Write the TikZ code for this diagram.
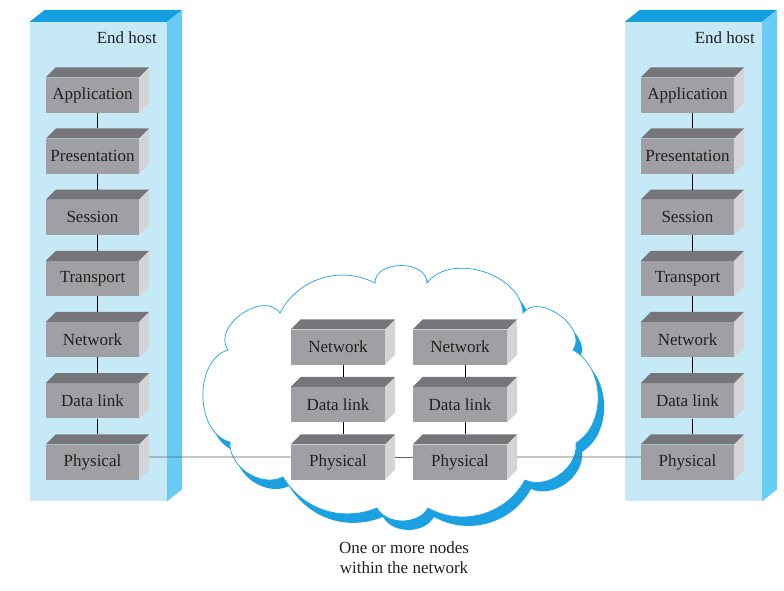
\documentclass[tikz,border=0pt]{standalone}
\usepackage{fontspec}
\setmainfont{Liberation Serif}

\definecolor{hostfront}{RGB}{198,233,248}
\definecolor{hosttop}{RGB}{20,160,222}
\definecolor{hostside}{RGB}{105,204,245}
\definecolor{boxfront}{RGB}{160,160,164}
\definecolor{boxtop}{RGB}{118,118,122}
\definecolor{boxside}{RGB}{212,212,214}
\definecolor{cloudblue}{RGB}{27,161,226}
\definecolor{linkgrey}{RGB}{95,95,98}
\definecolor{inktext}{RGB}{35,31,32}

\begin{document}
\begin{tikzpicture}[x=1pt, y=-1pt,
    every node/.style={font=\fontsize{17}{20}\selectfont, text=inktext},
    layer/.style={fill=boxfront, minimum width=93pt, minimum height=35pt, inner sep=0pt},
    host/.style={fill=hostfront, minimum width=137pt, minimum height=479pt, inner sep=0pt},
    shade/.style={fill=cloudblue},
    sky/.style={fill=white, draw=cloudblue, line width=0.7pt},
    link/.style={draw=linkgrey, line width=0.8pt},
    stack/.style={draw=black, line width=0.6pt}]
    \useasboundingbox (0,0) rectangle (784,590);

    % end hosts
    \node[host] (hostL) at (98.5,261.5) {};
    \node[host] (hostR) at (693.5,261.5) {};
    \foreach \h in {hostL,hostR} {
        \fill[hosttop] (\h.north west) -- ([shift={(15pt,12pt)}]\h.north west)
            -- ([shift={(15pt,12pt)}]\h.north east) -- (\h.north east) -- cycle;
        \fill[hostside] (\h.north east) -- ([shift={(15pt,12pt)}]\h.north east)
            -- ([shift={(15pt,12pt)}]\h.south east) -- (\h.south east) -- cycle;
    }
    \node[anchor=base east, inner sep=0pt] (tagL) at (157,43.5) {End host};
    \node[anchor=base east, inner sep=0pt] (tagR) at (755,43.5) {End host};

    % the network (shadow first, then the white cloud)
    \foreach \dx/\dy/\look in {6/9/shade, 0/0/sky}
        \path[\look, shift={(\dx,\dy)}] (280,313)
            to[bend left=45] (375,283)
            to[bend left=90, looseness=1.15] (427,283)
            to[bend left=70] (523,313)
            to[bend left=90, looseness=1.1] (573,350)
            to[bend left=60] (576,443)
            to[bend left=60] (525,480)
            to[bend left=45] (428,508)
            to[bend left=60] (377,508)
            to[bend left=40] (283,477)
            to[bend left=60] (230,442)
            to[bend left=75] (228,350)
            to[bend left=90, looseness=1.15] (280,313) -- cycle;

    % layers
    \foreach \t [count=\i] in {Application,Presentation,Session,Transport,Network,Data link,Physical} {
        \node[layer] (L\i) at (92.5,{95+61.17*(\i-1)}) {\t};
        \node[layer] (R\i) at (687.5,{95+61.17*(\i-1)}) {\t};
    }
    \foreach \t [count=\i] in {Network,Data link,Physical} {
        \node[layer, minimum width=94pt] (A\i) at (338,{347+57.5*(\i-1)}) {\t};
        \node[layer, minimum width=94pt] (B\i) at (460,{347+57.5*(\i-1)}) {\t};
    }
    \foreach \s/\k in {L/7,R/7,A/3,B/3}
        \foreach \i in {1,...,\k} {
            \fill[boxtop] (\s\i.north west) -- ([shift={(10pt,10pt)}]\s\i.north west)
                -- ([shift={(10pt,10pt)}]\s\i.north east) -- (\s\i.north east) -- cycle;
            \fill[boxside] (\s\i.north east) -- ([shift={(10pt,10pt)}]\s\i.north east)
                -- ([shift={(10pt,10pt)}]\s\i.south east) -- (\s\i.south east) -- cycle;
        }

    % links
    \foreach \s/\k in {L/6,R/6,A/2,B/2}
        \foreach \i [count=\j from 2] in {1,...,\k}
            \draw[stack] ([xshift=5pt]\s\i.south) -- ([shift={(5pt,10pt)}]\s\j.north);
    \draw[link] ([shift={(10pt,5pt)}]L7.east) -- ([yshift=5pt]A3.west);
    \draw[link] ([shift={(10pt,5pt)}]A3.east) -- ([yshift=5pt]B3.west);
    \draw[link] ([shift={(10pt,5pt)}]B3.east) -- ([yshift=5pt]R7.west);

    \node[align=center] (note) at (404,558) {One or more nodes\\within the network};
\end{tikzpicture}
\end{document}
